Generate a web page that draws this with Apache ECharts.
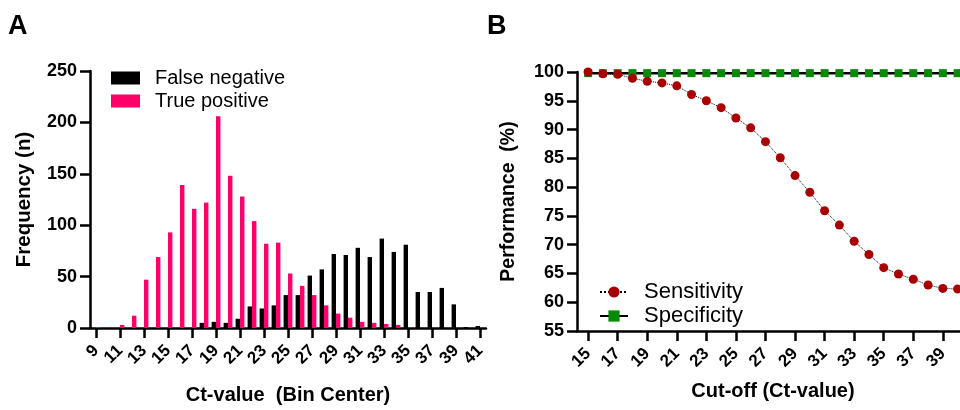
<!DOCTYPE html>
<html><head><meta charset="utf-8">
<script src="https://cdn.jsdelivr.net/npm/echarts@6/dist/echarts.min.js"></script>
<style>html,body{margin:0;padding:0;background:#fff}#c{width:960px;height:410px}</style>
</head><body><div id="c"></div><script>
const ctBins = [9,10,11,12,13,14,15,16,17,18,19,20,21,22,23,24,25,26,27,28,29,30,31,32,33,34,35,36,37,38,39,40,41];
const falseNegative = [0,0,0,0,0,0,0,0,0,5,6,5,9,21,19,22,32,32,51,57,72,71,78,69,87,74,81,35,35,39,23,1,2];
const truePositive = [1,0,3,12,47,69,93,139,116,122,206,148,128,104,82,83,53,41,32,22,14,10,6,5,4,3,0,0,0,0,0,0,0];
const ctTicks = [9,11,13,15,17,19,21,23,25,27,29,31,33,35,37,39,41];
const freqTicks = [0,50,100,150,200,250];
const cutoffs = [15,16,17,18,19,20,21,22,23,24,25,26,27,28,29,30,31,32,33,34,35,36,37,38,39,40];
const sensitivity = [100,99.7,99.6,98.9,98.4,98.1,97.6,96.1,95.0,93.8,92.0,90.3,87.9,85.1,82.0,79.1,75.9,73.4,70.6,68.3,66.0,64.9,64.0,63.0,62.4,62.3];
const specificity = [99.8,99.8,99.8,99.8,99.8,99.8,99.8,99.8,99.8,99.8,99.8,99.8,99.8,99.8,99.8,99.8,99.8,99.8,99.8,99.8,99.8,99.8,99.8,99.8,99.8,99.8];
const cutoffTicks = [15,17,19,21,23,25,27,29,31,33,35,37,39];
const perfTicks = [55,60,65,70,75,80,85,90,95,100];

const F = "'Liberation Sans', Arial, sans-serif";
const bold = (size) => ({fontFamily: F, fontWeight: 'bold', fontSize: size, color: '#000'});
const axLine = {show: true, lineStyle: {color: '#000', width: 2.5}};
const axTick = {show: true, length: 10, lineStyle: {color: '#000', width: 2.5}};

const chart = echarts.init(document.getElementById('c'), null, {renderer: 'canvas'});
chart.setOption({
  animation: false,
  backgroundColor: '#fff',
  title: [
    {text: 'A', left: 8, top: 13, padding: 0, textStyle: bold(27)},
    {text: 'B', left: 487, top: 13, padding: 0, textStyle: bold(27)}
  ],
  grid: [
    {left: 90, top: 71, width: 396, height: 260},
    {left: 577, top: 72, width: 383, height: 259}
  ],
  legend: [
    {data: ['False negative', 'True positive'], orient: 'vertical', left: 111, top: 68, padding: 0,
     icon: 'rect', itemWidth: 29, itemHeight: 13, itemGap: 3,
     textStyle: {fontFamily: F, fontSize: 20, lineHeight: 20, color: '#000', padding: [0, 0, 0, 10]}},
    {data: ['Sensitivity', 'Specificity'], orient: 'vertical', left: 599, top: 281, padding: 0,
     itemWidth: 28, itemHeight: 14, itemGap: 2,
     textStyle: {fontFamily: F, fontSize: 22, lineHeight: 18.5, color: '#000', padding: [0, 0, 0, 11]}}
  ],
  xAxis: [
    {type: 'value', gridIndex: 0, min: 8.5, max: 41.5,
     axisLine: axLine,
     axisTick: Object.assign({customValues: ctTicks}, axTick),
     axisLabel: Object.assign({customValues: ctTicks, rotate: 45, margin: 20,
       showMinLabel: true, showMaxLabel: true, hideOverlap: false}, bold(17)),
     splitLine: {show: false},
     name: 'Ct-value  (Bin Center)', nameLocation: 'middle', nameGap: 57, nameTextStyle: bold(20)},
    {type: 'value', gridIndex: 1, min: 14.25, max: 40.16,
     axisLine: axLine,
     axisTick: Object.assign({customValues: cutoffTicks}, axTick),
     axisLabel: Object.assign({customValues: cutoffTicks, rotate: 45, margin: 20,
       showMinLabel: true, showMaxLabel: true, hideOverlap: false}, bold(17)),
     splitLine: {show: false},
     name: 'Cut-off (Ct-value)', nameLocation: 'middle', nameGap: 50,
     nameTextStyle: Object.assign({padding: [0, 0, 0, 9]}, bold(20))}
  ],
  yAxis: [
    {type: 'value', gridIndex: 0, min: 0, max: 250, interval: 50,
     axisLine: axLine, axisTick: axTick,
     axisLabel: Object.assign({margin: 13, customValues: freqTicks}, bold(18)),
     splitLine: {show: false},
     name: 'Frequency (n)', nameLocation: 'middle', nameGap: 55, nameTextStyle: bold(20.5)},
    {type: 'value', gridIndex: 1, min: 55, max: 100, interval: 5,
     axisLine: axLine, axisTick: axTick,
     axisLabel: Object.assign({margin: 13, customValues: perfTicks}, bold(18)),
     splitLine: {show: false},
     name: 'Performance  (%)', nameLocation: 'middle', nameGap: 58, nameTextStyle: bold(19.5)}
  ],
  series: [
    {name: 'False negative', type: 'bar', xAxisIndex: 0, yAxisIndex: 0,
     data: ctBins.map((c, i) => [c, falseNegative[i]]),
     barWidth: 4.4, barGap: '0%', itemStyle: {color: '#000'}},
    {name: 'True positive', type: 'bar', xAxisIndex: 0, yAxisIndex: 0,
     data: ctBins.map((c, i) => [c, truePositive[i]]),
     barWidth: 4.4, barGap: '0%', itemStyle: {color: '#ff0068'}},
    {name: 'Specificity', type: 'line', xAxisIndex: 1, yAxisIndex: 1,
     data: cutoffs.map((c, i) => [c, specificity[i]]),
     symbol: 'rect', symbolSize: 8, clip: false,
     itemStyle: {color: '#078a07'}, lineStyle: {color: '#000', width: 2.5}},
    {name: 'Sensitivity', type: 'line', xAxisIndex: 1, yAxisIndex: 1,
     data: cutoffs.map((c, i) => [c, sensitivity[i]]),
     symbol: 'circle', symbolSize: 9, clip: false,
     itemStyle: {color: '#a80000'}, lineStyle: {color: '#000', width: 1, type: 'dotted'}}
  ]
});
</script></body></html>
